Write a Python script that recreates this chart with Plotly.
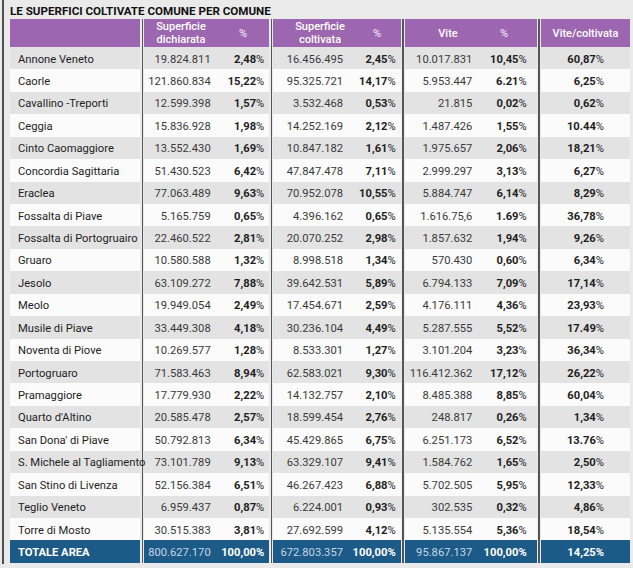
import plotly.graph_objects as go

W, H = 633, 568

# ---------------- data ----------------
title_text = "LE SUPERFICI COLTIVATE COMUNE PER COMUNE"
header_labels = ["", "Superficie\ndichiarata", "%", "Superficie\ncoltivata", "%", "Vite", "%", "Vite/coltivata"]

comuni = ["Annone Veneto", "Caorle", "Cavallino -Treporti", "Ceggia", "Cinto Caomaggiore",
          "Concordia Sagittaria", "Eraclea", "Fossalta di Piave", "Fossalta di Portogruairo",
          "Gruaro", "Jesolo", "Meolo", "Musile di Piave", "Noventa di Piove", "Portogruaro",
          "Pramaggiore", "Quarto d'Altino", "San Dona' di Piave", "S. Michele al Tagliamento",
          "San Stino di Livenza", "Teglio Veneto", "Torre di Mosto"]
sup_dich = ["19.824.811", "121.860.834", "12.599.398", "15.836.928", "13.552.430", "51.430.523",
            "77.063.489", "5.165.759", "22.460.522", "10.580.588", "63.109.272", "19.949.054",
            "33.449.308", "10.269.577", "71.583.463", "17.779.930", "20.585.478", "50.792.813",
            "73.101.789", "52.156.384", "6.959.437", "30.515.383"]
pct_dich = ["2,48%", "15,22%", "1,57%", "1,98%", "1,69%", "6,42%", "9,63%", "0,65%", "2,81%",
            "1,32%", "7,88%", "2,49%", "4,18%", "1,28%", "8,94%", "2,22%", "2,57%", "6,34%",
            "9,13%", "6,51%", "0,87%", "3,81%"]
sup_colt = ["16.456.495", "95.325.721", "3.532.468", "14.252.169", "10.847.182", "47.847.478",
            "70.952.078", "4.396.162", "20.070.252", "8.998.518", "39.642.531", "17.454.671",
            "30.236.104", "8.533.301", "62.583.021", "14.132.757", "18.599.454", "45.429.865",
            "63.329.107", "46.267.423", "6.224.001", "27.692.599"]
pct_colt = ["2,45%", "14,17%", "0,53%", "2,12%", "1,61%", "7,11%", "10,55%", "0,65%", "2,98%",
            "1,34%", "5,89%", "2,59%", "4,49%", "1,27%", "9,30%", "2,10%", "2,76%", "6,75%",
            "9,41%", "6,88%", "0,93%", "4,12%"]
vite = ["10.017.831", "5.953.447", "21.815", "1.487.426", "1.975.657", "2.999.297", "5.884.747",
        "1.616.75,6", "1.857.632", "570.430", "6.794.133", "4.176.111", "5.287.555", "3.101.204",
        "116.412.362", "8.485.388", "248.817", "6.251.173", "1.584.762", "5.702.505", "302.535",
        "5.135.554"]
pct_vite = ["10,45%", "6.21%", "0,02%", "1,55%", "2,06%", "3,13%", "6,14%", "1.69%", "1,94%",
            "0,60%", "7,09%", "4,36%", "5,52%", "3,23%", "17,12%", "8,85%", "0,26%", "6,52%",
            "1,65%", "5,95%", "0,32%", "5,36%"]
vite_colt = ["60,87%", "6,25%", "0,62%", "10.44%", "18,21%", "6,27%", "8,29%", "36,78%", "9,26%",
             "6,34%", "17,14%", "23,93%", "17.49%", "36,34%", "26,22%", "60,04%", "1,34%",
             "13.76%", "2,50%", "12,33%", "4,86%", "18,54%"]
totale = ["TOTALE AREA", "800.627.170", "100,00%", "672.803.357", "100,00%",
          "95.867.137", "100,00%", "14,25%"]

# ---------------- style / layout constants ----------------
FONT = "Roboto, Liberation Sans, sans-serif"
PAGE = "#eaeaea"
C_WHITE, C_GRAY, C_PURPLE, C_BLUE, C_RULE = "#fbfbfb", "#e3e3e3", "#9c66b0", "#1c5b87", "#555555"

TABLE_LEFT = 10
# (key, width, kind) ; kind: cell / bg / rule
segments = [
    ("name", 130, "cell"),
    (None, 1.6, "bg"), (None, 1.5, "rule"), (None, 0.9, "bg"),
    ("sd", 74.7, "cell"), ("pd", 50.6, "cell"),
    (None, 1.3, "bg"), (None, 1.5, "rule"), (None, 1.2, "bg"),
    ("sc", 77.7, "cell"), ("pc", 49.7, "cell"),
    (None, 1.4, "bg"), (None, 1.5, "rule"), (None, 1.7, "bg"),
    ("vi", 72.0, "cell"), ("pv", 59.4, "cell"),
    (None, 1.3, "bg"), (None, 1.5, "rule"), (None, 1.5, "bg"),
    ("vc", 89, "cell"),
]
HEADER_TOP, HEADER_H, ROW_H = 19, 28, 22.43
TEXT_DY = 1.5

# text anchors: (key, align, padding from edge)
text_cols = [
    ("name", "left", 8), ("sd", "right", 8), ("pd", "right", 5),
    ("sc", "right", 8), ("pc", "right", 5), ("vi", "right", 5),
    ("pv", "right", 10), ("vc", "right", 26),
]
header_centers = [75, 181, 243, 320, 377, 448, 504, 585.5]

# ---------------- build grid ----------------
x_edges = [TABLE_LEFT]
col_bounds = {}
for key, w, kind in segments:
    left = x_edges[-1]
    x_edges.append(left + w)
    if key:
        col_bounds[key] = (left, left + w)

n_data = len(comuni)
n_rows = 1 + n_data + 1
y_edges = [HEADER_TOP, HEADER_TOP + HEADER_H]
for k in range(n_data + 1):
    y_edges.append(y_edges[-1] + ROW_H)

code = {"white": 1, "gray": 2, "purple": 3, "blue": 4, "rule": 5}
z = []
for r in range(n_rows):
    row = []
    for key, w, kind in segments:
        if kind == "bg":
            row.append(None)
        elif kind == "rule":
            row.append(code["rule"])
        elif r == 0:
            row.append(code["purple"])
        elif r == n_rows - 1:
            row.append(code["blue"])
        else:
            row.append(code["gray"] if (r - 1) % 2 == 0 else code["white"])
    z.append(row)

cols = [C_WHITE, C_GRAY, C_PURPLE, C_BLUE, C_RULE]
cscale = []
for i, c in enumerate(cols):
    cscale.append([i / 5, c])
    cscale.append([(i + 1) / 5, c])

fig = go.Figure()
fig.add_trace(go.Heatmap(
    x=x_edges, y=y_edges, z=z, colorscale=cscale, zmin=0.5, zmax=5.5,
    showscale=False, hoverinfo="skip", zsmooth=False,
))

row_centers = [(y_edges[i + 1] + y_edges[i + 2]) / 2 + TEXT_DY for i in range(n_data + 1)]


def bold_pct(s):
    return f"<b>{s[:-1]}</b>%" if s.endswith("%") else f"<b>{s}</b>"


series = [comuni, sup_dich, pct_dich, sup_colt, pct_colt, vite, pct_vite, vite_colt]
for ci, (key, align, pad) in enumerate(text_cols):
    left, right = col_bounds[key]
    values = series[ci]
    is_name = key == "name"
    is_pct = key in ("pd", "pc", "pv", "vc")
    texts, colors = [], []
    for v in values:
        texts.append(bold_pct(v) if is_pct else v)
        colors.append("#1e1e1e" if (is_name or is_pct) else "#3a3a3a")
    tv = totale[ci]
    if is_name or is_pct:
        texts.append(f"<b>{tv}</b>")
        colors.append("#ffffff")
    else:
        texts.append(tv)
        colors.append("#c5d6e6")
    if align == "left":
        xpos, tpos = left + pad, "middle right"
    else:
        xpos, tpos = right - pad, "middle left"
    fig.add_trace(go.Scatter(
        x=[xpos] * len(texts), y=row_centers, mode="text", text=texts,
        textposition=tpos, hoverinfo="skip", showlegend=False, cliponaxis=False,
        textfont=dict(family=FONT, size=11.2, color=colors),
    ))

# header labels
hc_y = HEADER_TOP + HEADER_H / 2 + 1
for lab, xc in zip(header_labels, header_centers):
    if not lab:
        continue
    parts = lab.split("\n")
    col = "#eadcf0" if lab == "%" else "#ffffff"
    ys = [hc_y] if len(parts) == 1 else [hc_y - 6.4, hc_y + 6.2]
    fig.add_trace(go.Scatter(
        x=[xc] * len(parts), y=ys, mode="text", text=parts, textposition="middle center",
        hoverinfo="skip", showlegend=False, cliponaxis=False,
        textfont=dict(family=FONT, size=11, color=col, weight=500),
    ))

fig.add_shape(type="line", xref="x", yref="y", x0=3, x1=3, y0=0, y1=564,
              line=dict(color="#1a1a1a", width=1.5))

fig.update_layout(
    width=W, height=H, margin=dict(l=0, r=0, t=0, b=0),
    paper_bgcolor=PAGE, plot_bgcolor=PAGE,
    title=dict(text="<b>" + title_text + "</b>", x=10 / W, xanchor="left", y=1 - 10.5 / H,
               yanchor="middle", font=dict(family=FONT, size=11.6, color="#111111")),
    xaxis=dict(range=[0, W], visible=False, fixedrange=True),
    yaxis=dict(range=[H, 0], visible=False, fixedrange=True),
    showlegend=False,
)

fig.write_html(
    "out.html",
    config={"displayModeBar": False},
    post_script="document.body.style.margin='0';document.body.style.background='" + PAGE + "';",
)
